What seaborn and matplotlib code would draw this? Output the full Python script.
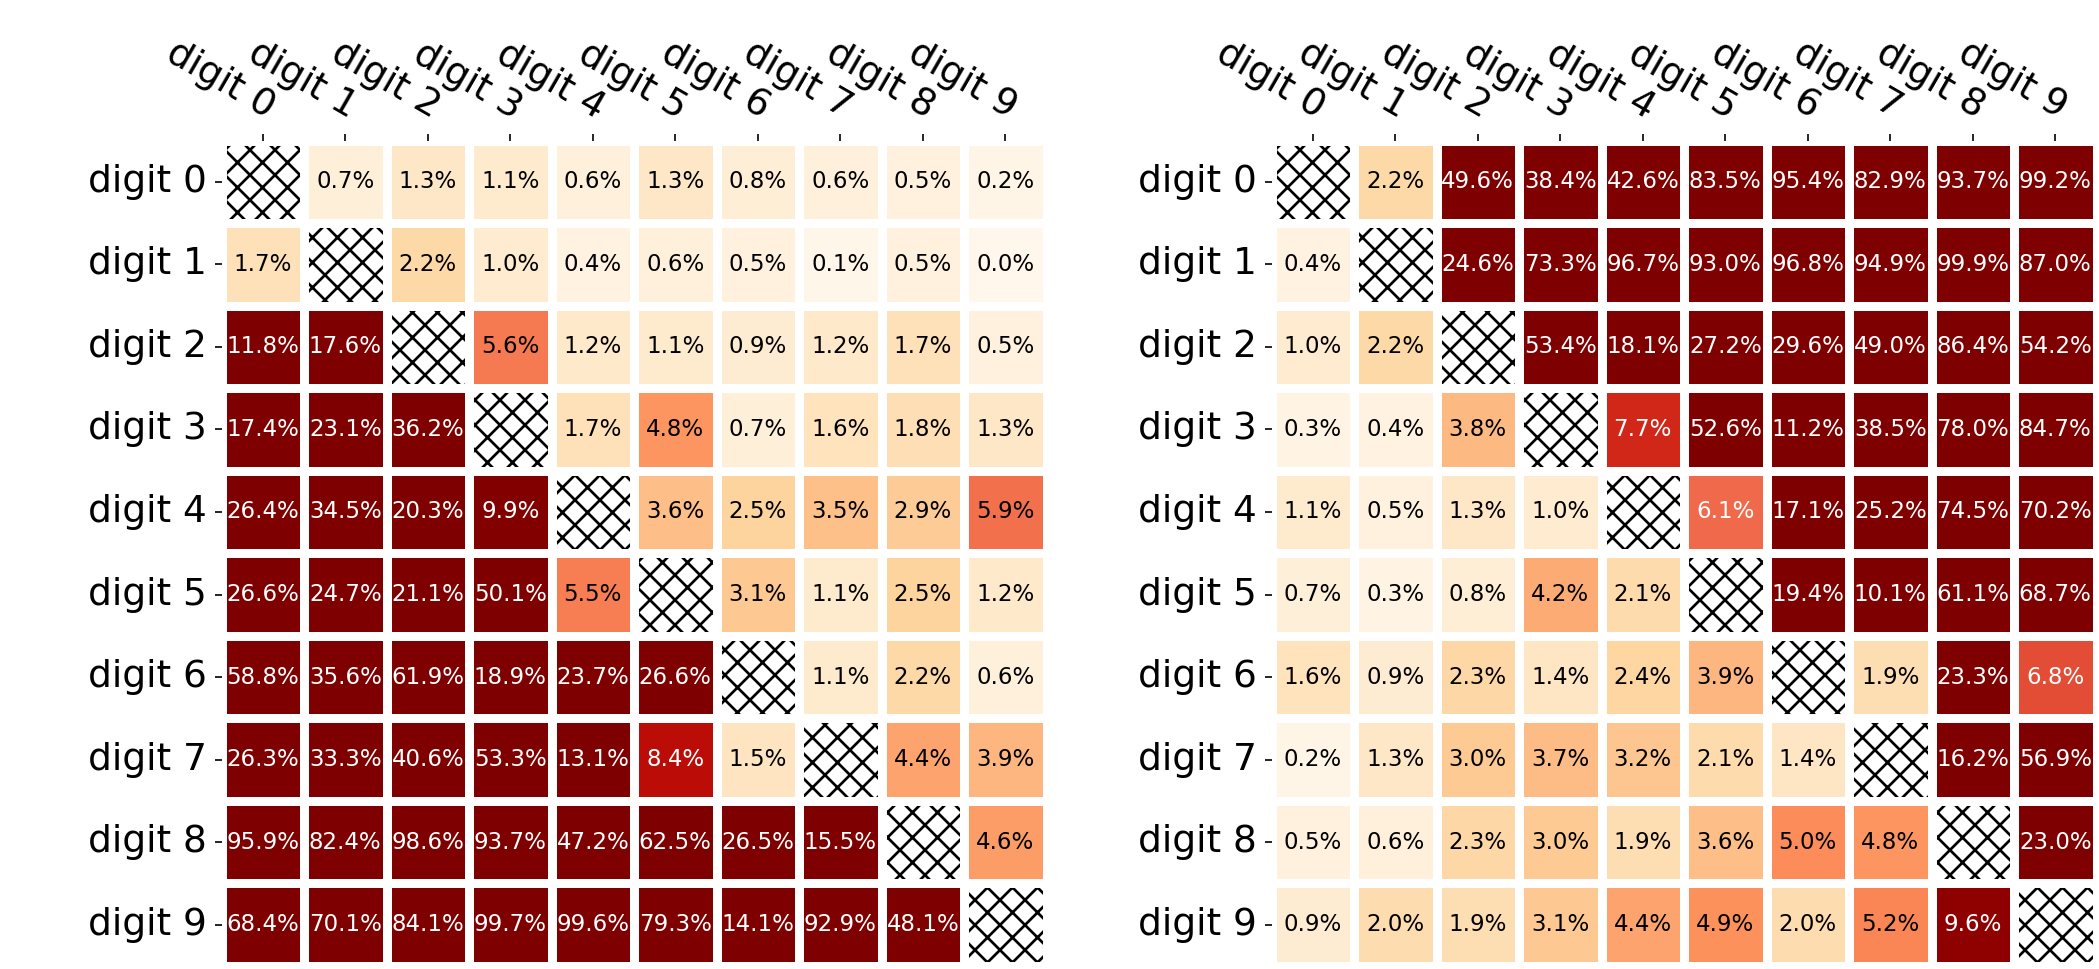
import numpy as np
import matplotlib
matplotlib.use("Agg")
import matplotlib.pyplot as plt
import seaborn as sns
from matplotlib.patches import Rectangle

nan = np.nan
digits = [f"digit {i}" for i in range(10)]

# percentages, rows/cols = digit 0..9, diagonal not shown
left_vals = [
    [nan, 0.7, 1.3, 1.1, 0.6, 1.3, 0.8, 0.6, 0.5, 0.2],
    [1.7, nan, 2.2, 1.0, 0.4, 0.6, 0.5, 0.1, 0.5, 0.0],
    [11.8, 17.6, nan, 5.6, 1.2, 1.1, 0.9, 1.2, 1.7, 0.5],
    [17.4, 23.1, 36.2, nan, 1.7, 4.8, 0.7, 1.6, 1.8, 1.3],
    [26.4, 34.5, 20.3, 9.9, nan, 3.6, 2.5, 3.5, 2.9, 5.9],
    [26.6, 24.7, 21.1, 50.1, 5.5, nan, 3.1, 1.1, 2.5, 1.2],
    [58.8, 35.6, 61.9, 18.9, 23.7, 26.6, nan, 1.1, 2.2, 0.6],
    [26.3, 33.3, 40.6, 53.3, 13.1, 8.4, 1.5, nan, 4.4, 3.9],
    [95.9, 82.4, 98.6, 93.7, 47.2, 62.5, 26.5, 15.5, nan, 4.6],
    [68.4, 70.1, 84.1, 99.7, 99.6, 79.3, 14.1, 92.9, 48.1, nan],
]

right_vals = [
    [nan, 2.2, 49.6, 38.4, 42.6, 83.5, 95.4, 82.9, 93.7, 99.2],
    [0.4, nan, 24.6, 73.3, 96.7, 93.0, 96.8, 94.9, 99.9, 87.0],
    [1.0, 2.2, nan, 53.4, 18.1, 27.2, 29.6, 49.0, 86.4, 54.2],
    [0.3, 0.4, 3.8, nan, 7.7, 52.6, 11.2, 38.5, 78.0, 84.7],
    [1.1, 0.5, 1.3, 1.0, nan, 6.1, 17.1, 25.2, 74.5, 70.2],
    [0.7, 0.3, 0.8, 4.2, 2.1, nan, 19.4, 10.1, 61.1, 68.7],
    [1.6, 0.9, 2.3, 1.4, 2.4, 3.9, nan, 1.9, 23.3, 6.8],
    [0.2, 1.3, 3.0, 3.7, 3.2, 2.1, 1.4, nan, 16.2, 56.9],
    [0.5, 0.6, 2.3, 3.0, 1.9, 3.6, 5.0, 4.8, nan, 23.0],
    [0.9, 2.0, 1.9, 3.1, 4.4, 4.9, 2.0, 5.2, 9.6, nan],
]

GAP = 4.3
plt.rcParams["hatch.linewidth"] = 1.3


def draw(ax, vals):
    data = np.array(vals) / 100.0
    sns.heatmap(data, ax=ax, cmap="OrRd", vmin=0, vmax=0.1, cbar=False,
                linewidths=GAP, linecolor="white", square=False,
                xticklabels=digits, yticklabels=digits)
    # annotations, white text on dark cells
    for i in range(10):
        for j in range(10):
            v = data[i, j]
            if np.isnan(v):
                # hatched diagonal
                ax.add_patch(Rectangle((j, i), 1, 1, facecolor="white",
                                       edgecolor="black", hatch="xx", lw=0, zorder=3))
                ax.add_patch(Rectangle((j, i), 1, 1, fill=False,
                                       edgecolor="white", lw=GAP, zorder=4))
                continue
            color = "white" if v > 0.06 else "black"
            ax.text(j + 0.5, i + 0.5, f"{v * 100:.1f}%", ha="center", va="center",
                    color=color, fontsize=11)
    ax.tick_params(top=True, bottom=False, labeltop=True, labelbottom=False,
                   length=3.5, width=0.8, labelsize=18)
    plt.setp(ax.get_xticklabels(), rotation=-30, ha="right", rotation_mode="anchor")
    plt.setp(ax.get_yticklabels(), rotation=0)
    for s in ax.spines.values():
        s.set_visible(False)


fig = plt.figure(figsize=(2099 / 150, 969 / 150), dpi=150)
ax1 = fig.add_axes([0.10553, 0.0031, 0.39305, 0.8519])
ax2 = fig.add_axes([0.60577, 0.0031, 0.39305, 0.8519])
draw(ax1, left_vals)
draw(ax2, right_vals)

fig.savefig("out.png", dpi=150)
